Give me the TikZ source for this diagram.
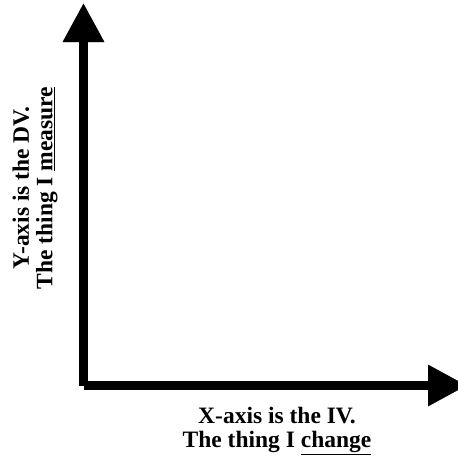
\documentclass[tikz,border=0pt]{standalone}
\usepackage{fontspec}
\setmainfont{Liberation Serif}
\usepackage{tikz}
\usetikzlibrary{arrows.meta, positioning}

\begin{document}
\begin{tikzpicture}[
          x=1pt, y=-1pt,
          axis/.style={line width=9pt, -{Triangle[length=39pt, width=39pt]}},
          axshadow/.style={axis, black, opacity=0.12},
          lbl/.style={font=\fontsize{23.5}{23.5}\selectfont\bfseries, align=center}
        ]
        \useasboundingbox (0,0) rectangle (458,461);

        % Axis end points
        \coordinate (origin) at (83.5, 385.5);
        \coordinate (ytip) at (83.5, 3);
        \coordinate (xtip) at (467, 385.5);

        % Soft shadow under the axes
        \foreach \k in {1,...,4} {
          \draw[axshadow, xshift=\k pt, yshift=-1.4*\k pt] (origin)--(ytip);
          \draw[axshadow, xshift=\k pt, yshift=-1.4*\k pt] (origin)--(xtip);
        }

        % Axes
        \draw[axis] (origin)--(ytip);
        \draw[axis] (origin)--(xtip);

        % Axis labels
        \node[lbl, rotate=90] (ylab) at (35, 188)
              {Y-axis is the DV.\\The thing I \underline{measure}};
        \node[lbl] (xlab) at (277, 431)
              {X-axis is the IV.\\The thing I \underline{change}};
      \end{tikzpicture}
\end{document}
